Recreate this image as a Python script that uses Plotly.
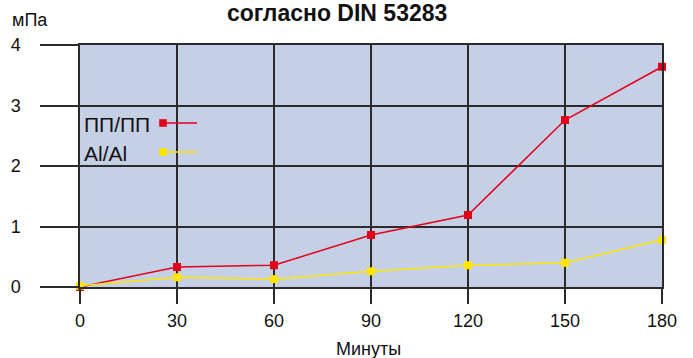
import plotly.graph_objects as go

minutes = [0, 30, 60, 90, 120, 150, 180]
pp_pp = [0.0, 0.33, 0.36, 0.86, 1.19, 2.76, 3.64]
al_al = [0.02, 0.16, 0.13, 0.26, 0.36, 0.40, 0.78]
x_ticks = [0, 30, 60, 90, 120, 150, 180]
y_ticks = [0, 1, 2, 3, 4]
series_names = ["ПП/ПП", "Al/Al"]
title_text = "согласно DIN 53283"
y_unit = "мПа"
x_label = "Минуты"

RED = "#E3001B"
YEL = "#FFE600"
GRID = "#2b2b2b"
FONT = "Liberation Sans, Arial, sans-serif"

W, H = 693, 358
L, R, T, B = 80, 31, 45, 71
PW, PH = W - L - R, H - T - B


def px(xp):
    return (xp - L) / PW


def py(yp):
    return 1 + (T - yp) / PH


fig = go.Figure()
fig.add_trace(go.Scatter(x=minutes, y=pp_pp, mode="lines+markers", name=series_names[0],
                         line=dict(color=RED, width=1.5),
                         marker=dict(symbol="square", size=8, color=RED),
                         cliponaxis=False, showlegend=False))
fig.add_trace(go.Scatter(x=minutes, y=al_al, mode="lines+markers", name=series_names[1],
                         line=dict(color=YEL, width=1.5),
                         marker=dict(symbol="square", size=8, color=YEL),
                         cliponaxis=False, showlegend=False))

shapes = []
annotations = []
legend_rows = [(series_names[0], RED, 123), (series_names[1], YEL, 152)]
for name, col, yc in legend_rows:
    annotations.append(dict(text=name, xref="paper", yref="paper", x=px(82), y=py(yc + 1),
                            xanchor="left", yanchor="middle", showarrow=False,
                            font=dict(size=21, color="#111", family=FONT)))
    shapes.append(dict(type="line", xref="paper", yref="paper", x0=px(163), x1=px(197),
                       y0=py(yc), y1=py(yc), line=dict(color=col, width=1.5)))
    shapes.append(dict(type="rect", xref="paper", yref="paper", x0=px(159.2), x1=px(166.8),
                       y0=py(yc - 3.8), y1=py(yc + 3.8), line=dict(width=0), fillcolor=col))

annotations.append(dict(text=y_unit, xref="paper", yref="paper", x=px(10), y=py(20),
                        xanchor="left", yanchor="middle", showarrow=False,
                        font=dict(size=18, color="#111", family=FONT)))
annotations.append(dict(text=x_label, xref="paper", yref="paper", x=px(368), y=py(348.5),
                        xanchor="center", yanchor="middle", showarrow=False,
                        font=dict(size=18, color="#111", family=FONT)))
annotations.append(dict(text="<b>" + title_text + "</b>", xref="paper", yref="paper",
                        x=px(337), y=py(12.5), xanchor="center", yanchor="middle", showarrow=False,
                        font=dict(size=23, color="#111", family=FONT)))

fig.update_layout(
    width=W, height=H,
    margin=dict(l=L, r=R, t=T, b=B, pad=0),
    paper_bgcolor="white",
    plot_bgcolor="#C5D0E6",
    font=dict(family=FONT, size=18, color="#111"),
    shapes=shapes,
    annotations=annotations,
    showlegend=False,
)
fig.update_xaxes(range=[0, 180], tickvals=x_ticks, ticktext=[str(v) for v in x_ticks],
                 showgrid=True, gridcolor=GRID, gridwidth=1.5, zeroline=False,
                 ticks="outside", ticklen=15, tickwidth=1.5, tickcolor=GRID,
                 ticklabelstandoff=2, tickfont=dict(size=18),
                 showline=True, mirror=True, linecolor=GRID, linewidth=1.5)
fig.update_yaxes(range=[0, 4], tickvals=y_ticks, ticktext=[str(v) for v in y_ticks],
                 showgrid=True, gridcolor=GRID, gridwidth=1.5, zeroline=False,
                 ticks="outside", ticklen=38, tickwidth=1.5, tickcolor=GRID,
                 ticklabelstandoff=16, tickfont=dict(size=18),
                 showline=True, mirror=True, linecolor=GRID, linewidth=1.5)

fig.write_html("out.html", config={"displayModeBar": False},
               post_script="document.body.style.margin='0';document.body.style.overflow='hidden';")
